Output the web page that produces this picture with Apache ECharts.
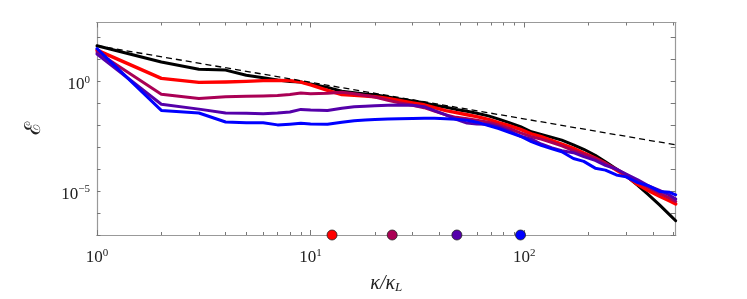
<!DOCTYPE html>
<html>
<head>
<meta charset="utf-8">
<script src="https://cdn.jsdelivr.net/npm/echarts@6/dist/echarts.min.js"></script>
<style>
html,body{margin:0;padding:0;background:#fff;}
#c{width:747px;height:299px;}
</style>
</head>
<body>
<div id="c"></div>
<script>
// wavenumbers (kappa / kappa_L)
const kappa = [1,2,3,4,5,6,7,8,9,10,12,14,16,18,20,23,26,30,34,38,43,48,54,60,68,76,85,96,108,120,135,150,170,190,215,240,270,300,340,380,430,480,512];

const eBlack = [41.9,7.62,3.59,3.25,1.90,1.47,1.14,0.980,0.931,0.760,0.533,0.355,0.305,0.267,0.244,0.193,0.158,0.129,0.105,0.0814,0.0665,0.0527,0.0430,0.0351,0.0267,0.0191,0.0131,0.00873,0.00504,0.00384,0.00280,0.00209,0.00129,0.000803,0.000428,0.000219,0.000102,4.97e-5,1.84e-5,7.15e-6,2.36e-6,8.31e-7,4.48e-7];
const eRed = [26.6,1.36,0.903,0.931,1.00,1.08,1.11,1.08,0.931,0.687,0.393,0.249,0.229,0.214,0.199,0.166,0.135,0.105,0.0857,0.0632,0.0466,0.0377,0.0301,0.0246,0.0187,0.0131,0.00966,0.00644,0.00408,0.00301,0.00200,0.00140,0.000889,0.000535,0.000322,0.000184,9.05e-5,4.92e-5,1.97e-5,1.07e-5,5.84e-6,3.51e-6,2.59e-6];
const eMaroon = [21.7,0.257,0.166,0.197,0.209,0.214,0.225,0.254,0.296,0.275,0.290,0.321,0.275,0.225,0.193,0.138,0.105,0.0814,0.0632,0.0443,0.0295,0.0229,0.0197,0.0169,0.0138,0.0102,0.00712,0.00451,0.00301,0.00233,0.00163,0.00115,0.000690,0.000483,0.000306,0.000184,0.000100,5.73e-5,2.68e-5,1.46e-5,7.92e-6,4.77e-6,3.34e-6];
const ePurple = [17.7,0.0902,0.0543,0.0362,0.0351,0.0337,0.0362,0.0400,0.0527,0.0490,0.0466,0.0601,0.0700,0.0736,0.0774,0.0814,0.0831,0.0814,0.0700,0.0466,0.0295,0.0187,0.0125,0.0115,0.0112,0.00830,0.00553,0.00316,0.00233,0.00140,0.000935,0.000690,0.000563,0.000375,0.000250,0.000150,0.000100,6.03e-5,3.28e-5,1.78e-5,1.07e-5,6.46e-6,4.31e-6];
const eBlue = [30.9,0.0475,0.0362,0.0141,0.0131,0.0131,0.0104,0.0112,0.0122,0.0115,0.0112,0.0138,0.0161,0.0172,0.0181,0.0191,0.0197,0.0203,0.0207,0.0207,0.0197,0.0187,0.0169,0.0138,0.00966,0.00712,0.00475,0.00316,0.00181,0.00121,0.000845,0.000623,0.000306,0.000226,0.000111,9.05e-5,5.45e-5,4.45e-5,2.42e-5,1.78e-5,9.70e-6,8.76e-6,6.80e-6];

// reference power law (dashed) endpoints
const refK = [1, 512];
const refE = [41.9, 0.00128];

// markers on the kappa axis
const markerK = [12.6, 24.1, 48.4, 96.1];
const markerColors = ['#ff0000', '#aa0055', '#5500aa', '#0000ff'];

// ticks
const xMajorTicks = [1, 10, 100];
const xMinorTicks = [2,3,4,5,6,7,8,9,20,30,40,50,60,70,80,90,200,300,400,500];
const yTicks = [1e-7,1e-6,1e-5,1e-4,1e-3,1e-2,1e-1,1,10,100];
const yLabelTicks = [1e-5, 1];

const seriesNames = ['black','red','maroon','purple','blue'];
const seriesValues = [eBlack, eRed, eMaroon, ePurple, eBlue];
const seriesColors = ['#000000','#ff0000','#aa0055','#5500aa','#0000ff'];
const seriesWidths = [3, 3.4, 3, 3, 3];

const FONT = 'Liberation Serif';
const AXC = '#999999';

function powLabel(v) {
  const e = Math.round(Math.log10(v));
  const s = e < 0 ? '\u2212' + (-e) : String(e);
  return '{b|10}{s|' + s + '}';
}
const richLab = {
  b: {fontFamily: FONT, fontSize: 17, color: '#222'},
  s: {fontFamily: FONT, fontSize: 11, color: '#222', padding: [0,0,9,0]}
};

function xAxisDef(pos, ticks, len, withLabel) {
  return {
    type: 'log', logBase: 10, min: 1, max: 512, position: pos,
    axisLine: {show: true, onZero: false, lineStyle: {color: AXC, width: 1.2}},
    axisTick: {show: true, inside: true, length: len, customValues: ticks, lineStyle: {color: '#777', width: 1}},
    axisLabel: withLabel ? {show: true, customValues: xMajorTicks, formatter: powLabel, rich: richLab, margin: 13} : {show: false},
    splitLine: {show: false}, minorTick: {show: false}
  };
}
function yAxisDef(pos, len, withLabel) {
  const a = {
    type: 'log', logBase: 10, min: 1e-7, max: 480, position: pos,
    axisLine: {show: true, onZero: false, lineStyle: {color: AXC, width: 1.2}},
    axisTick: {show: true, inside: true, length: len, customValues: yTicks, lineStyle: {color: '#777', width: 1}},
    axisLabel: withLabel ? {show: true, customValues: yLabelTicks, formatter: powLabel, rich: richLab, margin: 7, padding: [6,0,0,0]} : {show: false},
    splitLine: {show: false}, minorTick: {show: false}
  };
  if (withLabel) {
    a.name = '\u2130';
    a.nameLocation = 'middle';
    a.nameRotate = 90;
    a.nameGap = 52;
    a.nameTextStyle = {fontFamily: 'DejaVu Serif', fontSize: 22, color: '#222'};
  }
  return a;
}

const xAxes = [
  xAxisDef('bottom', xMajorTicks, 5, true),
  xAxisDef('bottom', xMinorTicks, 3, false),
  xAxisDef('top', xMajorTicks, 5, false),
  xAxisDef('top', xMinorTicks, 3, false)
];
xAxes[0].name = '{i|\u03ba/\u03ba}{sub|L}';
xAxes[0].nameLocation = 'middle';
xAxes[0].nameGap = 38;
xAxes[0].nameTextStyle = {
  rich: {
    i: {fontFamily: FONT, fontSize: 20, fontStyle: 'italic', color: '#222'},
    sub: {fontFamily: FONT, fontSize: 13, fontStyle: 'italic', color: '#222', padding: [8,0,0,0]}
  }
};

const series = [];
seriesValues.forEach(function (vals, i) {
  series.push({
    name: seriesNames[i], type: 'line', xAxisIndex: 0, yAxisIndex: 0,
    data: kappa.map(function (k, j) { return [k, vals[j]]; }),
    showSymbol: false, smooth: false, z: 2 + i,
    lineStyle: {color: seriesColors[i], width: seriesWidths[i], join: 'round', cap: 'round'},
    itemStyle: {color: seriesColors[i]}
  });
});
series.push({
  name: 'ref', type: 'line', xAxisIndex: 0, yAxisIndex: 0,
  data: refK.map(function (k, j) { return [k, refE[j]]; }),
  showSymbol: false, z: 10,
  lineStyle: {color: '#000', width: 1.3, type: [6, 4]}
});
series.push({
  name: 'markers', type: 'scatter', xAxisIndex: 0, yAxisIndex: 0,
  data: markerK.map(function (k, j) {
    return {value: [k, 1e-7], itemStyle: {color: markerColors[j], opacity: 1}};
  }),
  symbol: 'circle', symbolSize: 10, clip: false, z: 20,
  itemStyle: {borderColor: '#222', borderWidth: 0.8, opacity: 1}
});

const chart = echarts.init(document.getElementById('c'), null, {renderer: 'canvas'});
chart.setOption({
  animation: false,
  backgroundColor: '#fff',
  grid: {left: 97, top: 22.5, right: 71.3, bottom: 57.3, show: false},
  xAxis: xAxes,
  yAxis: [yAxisDef('left', 3.5, true), yAxisDef('right', 5, false)],
  series: series
});
</script>
</body>
</html>
